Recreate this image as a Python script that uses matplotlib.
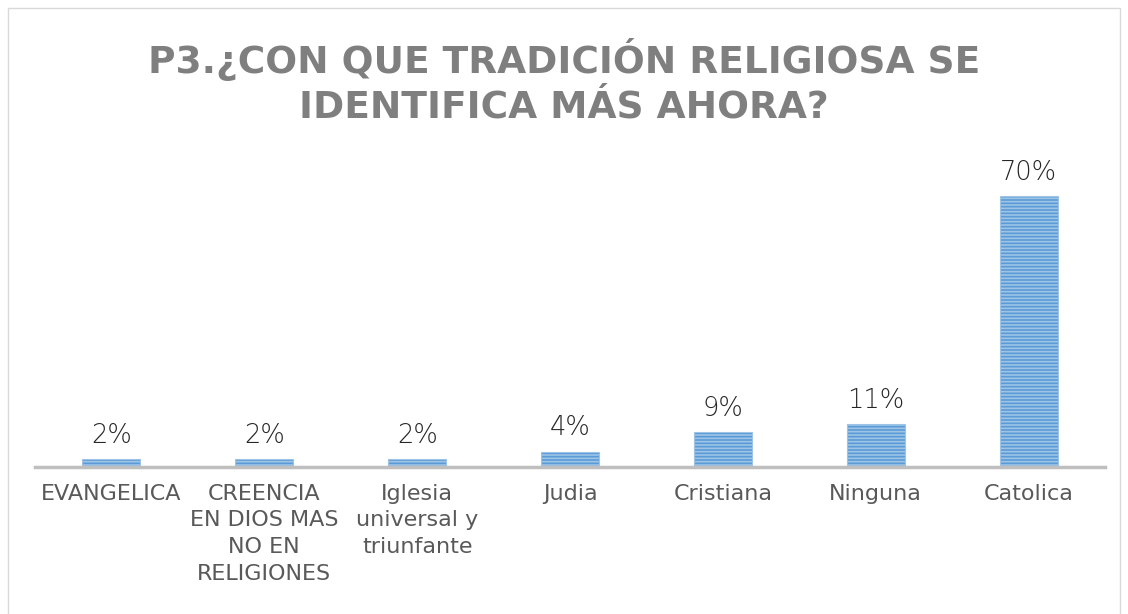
import matplotlib
matplotlib.use('agg')
import matplotlib.pyplot as plt
from matplotlib.patches import Rectangle

categories = ["EVANGELICA", "CREENCIA\nEN DIOS MAS\nNO EN\nRELIGIONES",
              "Iglesia\nuniversal y\ntriunfante", "Judia", "Cristiana",
              "Ninguna", "Catolica"]
values = [2, 2, 2, 4, 9, 11, 70]
value_labels = ["2%", "2%", "2%", "4%", "9%", "11%", "70%"]
title = "P3.¿CON QUE TRADICIÓN RELIGIOSA SE\nIDENTIFICA MÁS AHORA?"

plt.rcParams['font.family'] = ['DejaVu Sans']
plt.rcParams['hatch.linewidth'] = 1.2
plt.rcParams['hatch.color'] = '#C9DDF2'

W, H = 1128, 614
fig = plt.figure(figsize=(W / 100, H / 100), dpi=100)
fig.patches.append(Rectangle((8 / W, -0.1), (1120 - 8) / W, 1.1 - 8 / H,
                             transform=fig.transFigure, fill=False,
                             edgecolor='#D9D9D9', linewidth=1))

ax = fig.add_axes([35 / W, 147 / H, (1105 - 35) / W, 310 / H])
x = range(len(values))
ax.bar(x, values, width=0.38, color='#5B9BD5', hatch='-----',
       edgecolor='#9DC3E6', linewidth=0.8)
ax.set_xlim(-0.5, len(values) - 0.5)
ax.set_ylim(0, 80)

for xi, v, lab in zip(x, values, value_labels):
    ax.annotate(lab, (xi, v), xytext=(0, 8), textcoords='offset points',
                ha='center', va='bottom', fontsize=18.5, color='#262626',
                fontweight='light')

ax.set_xticks(list(x))
ax.set_xticklabels(categories, fontsize=16, color='#595959', linespacing=1.42)
ax.tick_params(axis='x', length=0, pad=12)
ax.set_yticks([])
for s in ['top', 'right', 'left']:
    ax.spines[s].set_visible(False)
ax.spines['bottom'].set_color('#BFBFBF')
ax.spines['bottom'].set_linewidth(2.5)

fig.text(0.5, 1 - 38 / H, title, ha='center', va='top', fontsize=27,
         fontweight='bold', color='#7F7F7F', linespacing=1.3)

fig.savefig('out.png', dpi=100)
